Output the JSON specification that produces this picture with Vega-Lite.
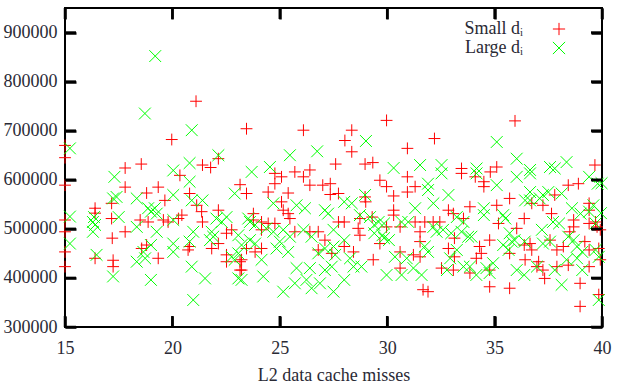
{
  "$schema": "https://vega.github.io/schema/vega-lite/v6.json",
  "width": 537,
  "height": 319,
  "autosize": {"type": "none"},
  "padding": {"left": 65, "top": 8, "right": 23, "bottom": 62},
  "background": "white",
  "config": {
    "view": {"stroke": "black", "strokeWidth": 2},
    "axis": {
      "domain": false, "grid": false, "zindex": 1, "ticks": true,
      "tickColor": "#000000", "tickOpacity": 1, "tickWidth": 2.5, "tickSize": 11, "offset": -11,
      "labelFont": "Liberation Serif", "labelFontSize": 18, "labelColor": "#2a2a35",
      "titleFont": "Liberation Serif", "titleFontSize": 18, "titleFontWeight": "normal", "titleColor": "#2a2a35"
    },
    "legend": {
      "orient": "none", "legendX": 485, "legendY": 12,
      "labelFont": "Liberation Serif", "labelFontSize": 18, "labelColor": "#2a2a35",
      "labelAlign": "right", "labelOffset": -45, "symbolSize": 150, "symbolStrokeWidth": 1,
      "rowPadding": 1, "padding": 0, "title": null
    }
  },
  "datasets": {
    "xticks": [{"t":15},{"t":20},{"t":25},{"t":30},{"t":35},{"t":40}],
    "yticks": [{"t":300000},{"t":400000},{"t":500000},{"t":600000},{"t":700000},{"t":800000},{"t":900000}],
    "small": [
      {"x":15,"y":670000},{"x":15,"y":645000},{"x":15,"y":589000},{"x":15,"y":518000},{"x":15,"y":494000},{"x":15,"y":453000},{"x":15,"y":423000},
      {"x":17.8,"y":624000},{"x":18.55,"y":632000},{"x":17.8,"y":585000},{"x":18.8,"y":573000},{"x":17.17,"y":552000},{"x":16.4,"y":542000},{"x":16.4,"y":532000},{"x":17.17,"y":521000},{"x":17.2,"y":481000},{"x":17.8,"y":494000},{"x":18.5,"y":518000},{"x":18.87,"y":514000},{"x":18.57,"y":460000},{"x":18.8,"y":467000},{"x":17.24,"y":436000},{"x":17.24,"y":423000},{"x":16.4,"y":440000},
      {"x":21.1,"y":760000},{"x":19.97,"y":682000},{"x":23.45,"y":704000},{"x":22.14,"y":643000},{"x":20.35,"y":609000},{"x":21.4,"y":630000},{"x":21.78,"y":625000},{"x":19.34,"y":585000},{"x":23.15,"y":590000},{"x":19.65,"y":558000},{"x":20.8,"y":572000},{"x":21.13,"y":548000},{"x":22.14,"y":538000},{"x":21.36,"y":535000},{"x":20.44,"y":528000},{"x":20.28,"y":521000},{"x":19.58,"y":518000},{"x":19.8,"y":514000},{"x":21.4,"y":514000},{"x":22.76,"y":498000},{"x":22.52,"y":491000},{"x":22.14,"y":470000},{"x":21.83,"y":460000},{"x":20.8,"y":464000},{"x":20.73,"y":457000},{"x":19.34,"y":440000},{"x":22.52,"y":447000},{"x":22.52,"y":433000},{"x":23.15,"y":433000},{"x":23.15,"y":416000},
      {"x":26.1,"y":701000},{"x":24.77,"y":613000},{"x":25.08,"y":606000},{"x":24.77,"y":592000},{"x":25.7,"y":616000},{"x":26.1,"y":606000},{"x":26.4,"y":620000},{"x":26.4,"y":589000},{"x":27.0,"y":589000},{"x":27.35,"y":592000},{"x":27.35,"y":570000},{"x":23.45,"y":572000},{"x":24.46,"y":575000},{"x":25.39,"y":573000},{"x":25.08,"y":555000},{"x":25.16,"y":538000},{"x":25.39,"y":531000},{"x":25.47,"y":521000},{"x":23.77,"y":531000},{"x":23.77,"y":518000},{"x":24.15,"y":514000},{"x":24.46,"y":511000},{"x":24.77,"y":511000},{"x":24.15,"y":498000},{"x":25.7,"y":494000},{"x":26.4,"y":494000},{"x":26.79,"y":494000},{"x":27.1,"y":477000},{"x":26.79,"y":457000},{"x":27.42,"y":450000},{"x":23.45,"y":460000},{"x":23.85,"y":453000},{"x":24.15,"y":460000},{"x":23.22,"y":437000},{"x":23.22,"y":416000},{"x":27.6,"y":632000},
      {"x":29.97,"y":721000},{"x":28.35,"y":701000},{"x":28.03,"y":680000},{"x":28.35,"y":657000},{"x":30.94,"y":664000},{"x":28.97,"y":632000},{"x":29.33,"y":635000},{"x":29.66,"y":599000},{"x":29.97,"y":586000},{"x":30.94,"y":606000},{"x":30.94,"y":575000},{"x":31.3,"y":586000},{"x":27.73,"y":572000},
      {"x":30.3,"y":567000},{"x":30.3,"y":538000},{"x":30.3,"y":528000},{"x":30.6,"y":504000},{"x":28.97,"y":565000},{"x":29.0,"y":555000},{"x":27.73,"y":514000},{"x":28.0,"y":514000},{"x":28.73,"y":521000},{"x":29.3,"y":524000},{"x":28.65,"y":501000},{"x":28.73,"y":487000},{"x":29.97,"y":504000},{"x":31.3,"y":514000},{"x":31.53,"y":494000},{"x":31.53,"y":474000},{"x":31.22,"y":447000},{"x":31.53,"y":443000},{"x":28.0,"y":464000},{"x":28.43,"y":453000},{"x":29.66,"y":470000},{"x":29.35,"y":437000},{"x":30.6,"y":453000},{"x":30.6,"y":420000},{"x":31.67,"y":376000},
      {"x":32.2,"y":684000},{"x":33.46,"y":623000},{"x":33.46,"y":613000},{"x":34.1,"y":606000},{"x":34.5,"y":596000},{"x":34.5,"y":586000},{"x":34.8,"y":616000},{"x":35.1,"y":626000},{"x":33.85,"y":545000},{"x":35.1,"y":548000},{"x":35.18,"y":511000},{"x":35.7,"y":562000},{"x":32.85,"y":538000},{"x":33.08,"y":531000},{"x":33.55,"y":521000},{"x":31.75,"y":514000},{"x":32.14,"y":514000},{"x":32.45,"y":514000},
      {"x":33.13,"y":481000},{"x":34.77,"y":477000},{"x":34.3,"y":464000},{"x":34.38,"y":450000},{"x":34.15,"y":440000},{"x":32.85,"y":460000},{"x":33.13,"y":443000},{"x":35.7,"y":450000},{"x":32.53,"y":420000},{"x":33.08,"y":416000},{"x":33.85,"y":410000},{"x":34.77,"y":416000},{"x":31.9,"y":372000},{"x":34.77,"y":382000},{"x":35.7,"y":379000},{"x":35.95,"y":720000},
      {"x":39.67,"y":630000},{"x":38.43,"y":589000},{"x":38.9,"y":592000},{"x":37.8,"y":569000},{"x":36.73,"y":552000},{"x":37.25,"y":548000},{"x":37.65,"y":531000},{"x":39.4,"y":552000},{"x":39.4,"y":538000},{"x":36.38,"y":521000},{"x":36.03,"y":501000},{"x":38.68,"y":518000},{"x":38.68,"y":504000},{"x":39.4,"y":511000},{"x":39.7,"y":514000},{"x":39.77,"y":504000},{"x":36.38,"y":467000},{"x":36.65,"y":470000},{"x":36.73,"y":457000},{"x":37.58,"y":477000},{"x":38.2,"y":464000},{"x":37.9,"y":457000},{"x":38.5,"y":494000},{"x":39.2,"y":474000},{"x":39.4,"y":457000},{"x":39.85,"y":460000},{"x":36.42,"y":437000},{"x":37.05,"y":433000},{"x":36.97,"y":423000},{"x":37.25,"y":416000},{"x":37.33,"y":399000},{"x":37.9,"y":423000},{"x":38.43,"y":426000},{"x":39.4,"y":423000},{"x":38.98,"y":389000},{"x":38.98,"y":342000},{"x":39.85,"y":366000},{"x":39.92,"y":498000},{"x":39.92,"y":437000}
    ],
    "large": [
      {"x":19.2,"y":852000},{"x":18.72,"y":735000},{"x":15.23,"y":664000},{"x":17.3,"y":606000},{"x":17.4,"y":565000},{"x":17.24,"y":562000},{"x":18.34,"y":562000},{"x":18.87,"y":542000},{"x":19.0,"y":535000},{"x":16.35,"y":524000},{"x":16.3,"y":514000},{"x":16.3,"y":494000},{"x":16.4,"y":508000},{"x":17.5,"y":524000},{"x":18.34,"y":504000},{"x":18.65,"y":453000},{"x":18.34,"y":433000},{"x":18.73,"y":440000},{"x":16.47,"y":447000},{"x":17.24,"y":403000},{"x":19.0,"y":396000},{"x":15.23,"y":525000},{"x":15.23,"y":470000},
      {"x":20.9,"y":701000},{"x":22.14,"y":650000},{"x":20.8,"y":634000},{"x":20.04,"y":619000},{"x":20.8,"y":596000},{"x":22.9,"y":572000},{"x":20.04,"y":569000},{"x":20.9,"y":558000},{"x":21.4,"y":558000},{"x":19.18,"y":542000},{"x":19.27,"y":531000},{"x":20.04,"y":518000},{"x":22.05,"y":521000},{"x":22.52,"y":524000},{"x":22.3,"y":514000},{"x":19.27,"y":494000},{"x":20.97,"y":494000},{"x":21.83,"y":494000},{"x":21.9,"y":484000},{"x":21.75,"y":477000},{"x":23.07,"y":487000},{"x":20.8,"y":474000},{"x":20.04,"y":470000},{"x":20.04,"y":453000},{"x":19.0,"y":467000},{"x":22.76,"y":443000},{"x":22.9,"y":437000},{"x":23.07,"y":450000},{"x":20.9,"y":423000},{"x":21.52,"y":399000},{"x":23.07,"y":399000},{"x":20.97,"y":355000},
      {"x":25.47,"y":650000},{"x":26.74,"y":658000},{"x":23.69,"y":616000},{"x":24.54,"y":626000},{"x":24.7,"y":552000},{"x":25.78,"y":548000},{"x":26.17,"y":542000},{"x":27.1,"y":538000},{"x":27.25,"y":531000},{"x":23.53,"y":521000},{"x":23.61,"y":514000},{"x":23.85,"y":508000},{"x":24.37,"y":501000},{"x":24.7,"y":494000},{"x":25.16,"y":498000},{"x":25.47,"y":484000},{"x":25.0,"y":474000},{"x":24.85,"y":460000},{"x":25.39,"y":453000},{"x":26.1,"y":498000},{"x":26.48,"y":484000},{"x":26.79,"y":450000},{"x":27.1,"y":460000},{"x":23.61,"y":477000},{"x":23.22,"y":467000},{"x":23.85,"y":470000},{"x":24.15,"y":437000},{"x":24.23,"y":403000},{"x":25.78,"y":420000},{"x":26.4,"y":420000},{"x":27.1,"y":416000},{"x":27.42,"y":423000},{"x":25.7,"y":389000},{"x":26.24,"y":396000},{"x":26.48,"y":379000},{"x":26.87,"y":389000},{"x":25.16,"y":372000},{"x":23.22,"y":396000},{"x":27.5,"y":372000},
      {"x":29.01,"y":679000},{"x":30.3,"y":624000},{"x":31.53,"y":630000},{"x":28.97,"y":569000},{"x":28.0,"y":555000},{"x":28.35,"y":552000},{"x":31.3,"y":542000},{"x":28.73,"y":528000},{"x":29.2,"y":524000},{"x":29.6,"y":514000},{"x":29.4,"y":508000},{"x":29.85,"y":511000},{"x":29.4,"y":491000},{"x":29.78,"y":487000},{"x":30.67,"y":514000},{"x":30.98,"y":514000},{"x":27.5,"y":498000},{"x":28.0,"y":477000},{"x":27.5,"y":464000},{"x":27.58,"y":447000},{"x":28.27,"y":440000},{"x":28.43,"y":423000},{"x":28.8,"y":423000},{"x":29.85,"y":481000},{"x":30.08,"y":477000},{"x":30.36,"y":443000},{"x":30.91,"y":440000},{"x":31.22,"y":420000},{"x":30.67,"y":406000},{"x":29.97,"y":406000},{"x":28.0,"y":396000},
      {"x":35.1,"y":677000},{"x":32.53,"y":630000},{"x":32.53,"y":613000},{"x":34.16,"y":623000},{"x":34.16,"y":613000},{"x":35.1,"y":589000},{"x":31.9,"y":592000},{"x":31.9,"y":579000},{"x":32.85,"y":569000},{"x":32.15,"y":552000},{"x":34.5,"y":542000},{"x":34.5,"y":528000},{"x":35.4,"y":528000},{"x":35.5,"y":521000},{"x":33.24,"y":524000},{"x":33.55,"y":514000},{"x":32.15,"y":504000},{"x":32.3,"y":494000},{"x":32.6,"y":498000},{"x":32.98,"y":491000},{"x":33.46,"y":494000},{"x":33.77,"y":484000},{"x":33.92,"y":484000},{"x":33.24,"y":457000},{"x":32.93,"y":440000},{"x":31.9,"y":453000},{"x":31.75,"y":464000},{"x":35.4,"y":467000},{"x":35.65,"y":457000},{"x":35.8,"y":474000},{"x":32.78,"y":416000},{"x":33.55,"y":423000},{"x":33.85,"y":423000},{"x":34.15,"y":406000},{"x":34.62,"y":420000},{"x":34.93,"y":430000},{"x":34.77,"y":410000},{"x":31.6,"y":406000},
      {"x":36.03,"y":643000},{"x":36.65,"y":620000},{"x":36.03,"y":606000},{"x":36.65,"y":613000},{"x":37.58,"y":626000},{"x":37.8,"y":623000},{"x":38.35,"y":636000},{"x":39.4,"y":606000},{"x":39.8,"y":592000},{"x":39.98,"y":593000},
      {"x":36.65,"y":575000},{"x":36.65,"y":558000},{"x":36.42,"y":558000},{"x":37.1,"y":562000},{"x":37.25,"y":569000},{"x":37.5,"y":575000},{"x":38.12,"y":572000},{"x":38.6,"y":542000},{"x":39.0,"y":531000},{"x":39.4,"y":535000},{"x":39.7,"y":511000},{"x":37.72,"y":514000},{"x":38.0,"y":511000},{"x":35.7,"y":491000},{"x":35.93,"y":477000},{"x":36.4,"y":474000},{"x":37.2,"y":498000},{"x":37.25,"y":470000},{"x":37.58,"y":474000},{"x":38.43,"y":484000},{"x":38.68,"y":477000},{"x":38.84,"y":464000},{"x":39.08,"y":453000},{"x":39.7,"y":457000},{"x":39.85,"y":443000},{"x":36.03,"y":416000},{"x":36.38,"y":406000},{"x":36.97,"y":423000},{"x":37.8,"y":416000},{"x":38.12,"y":386000},{"x":38.35,"y":437000},{"x":38.84,"y":440000},{"x":39.08,"y":416000},{"x":39.85,"y":355000},{"x":39.95,"y":532000},{"x":39.6,"y":548000}
    ]
  },
  "layer": [
    {
      "data": {"name": "small"},
      "mark": {"type": "point", "filled": false, "strokeWidth": 1, "size": 140, "opacity": 1},
      "encoding": {
        "x": {"field": "x", "type": "quantitative",
              "scale": {"domain": [15, 40], "nice": false, "zero": false},
              "axis": {"orient": "bottom", "values": [15, 20, 25, 30, 35, 40], "title": "L2 data cache misses", "labelPadding": 12, "labelFlush": false, "labelDx": 2, "titlePadding": 9}},
        "y": {"field": "y", "type": "quantitative",
              "scale": {"domain": [300000, 950000], "nice": false, "zero": false},
              "axis": {"orient": "left", "values": [300000, 400000, 500000, 600000, 700000, 800000, 900000], "format": "d", "title": null, "labelPadding": 8, "labelFlush": false}},
        "color": {"datum": "Small dᵢ", "type": "nominal",
                  "scale": {"domain": ["Small dᵢ", "Large dᵢ"], "range": ["#ff0000", "#00ff00"]}},
        "shape": {"datum": "Small dᵢ", "type": "nominal",
                  "scale": {"domain": ["Small dᵢ", "Large dᵢ"], "range": ["M-1,0L1,0M0,-1L0,1", "M-1,-1L1,1M-1,1L1,-1"]}}
      }
    },
    {
      "data": {"name": "large"},
      "mark": {"type": "point", "filled": false, "strokeWidth": 1, "size": 140, "opacity": 1},
      "encoding": {
        "x": {"field": "x", "type": "quantitative",
              "axis": {"orient": "top", "values": [15, 20, 25, 30, 35, 40], "labels": false, "title": null}},
        "y": {"field": "y", "type": "quantitative",
              "axis": {"orient": "right", "values": [300000, 400000, 500000, 600000, 700000, 800000, 900000], "labels": false, "title": null}},
        "color": {"datum": "Large dᵢ", "type": "nominal"},
        "shape": {"datum": "Large dᵢ", "type": "nominal"}
      }
    },
    {
      "data": {"name": "xticks"},
      "mark": {"type": "rule", "color": "black", "strokeWidth": 2.5},
      "encoding": {
        "x": {"field": "t", "type": "quantitative", "axis": null},
        "y": {"datum": 300000, "type": "quantitative", "axis": null},
        "y2": {"datum": 322400}
      }
    },
    {
      "data": {"name": "xticks"},
      "mark": {"type": "rule", "color": "black", "strokeWidth": 2.5},
      "encoding": {
        "x": {"field": "t", "type": "quantitative", "axis": null},
        "y": {"datum": 950000, "type": "quantitative", "axis": null},
        "y2": {"datum": 927600}
      }
    },
    {
      "data": {"name": "yticks"},
      "mark": {"type": "rule", "color": "black", "strokeWidth": 2.5},
      "encoding": {
        "y": {"field": "t", "type": "quantitative", "axis": null},
        "x": {"datum": 15, "type": "quantitative", "axis": null},
        "x2": {"datum": 15.512}
      }
    },
    {
      "data": {"name": "yticks"},
      "mark": {"type": "rule", "color": "black", "strokeWidth": 2.5},
      "encoding": {
        "y": {"field": "t", "type": "quantitative", "axis": null},
        "x": {"datum": 40, "type": "quantitative", "axis": null},
        "x2": {"datum": 39.488}
      }
    }
  ],
  "resolve": {"axis": {"x": "independent", "y": "independent"}}
}
